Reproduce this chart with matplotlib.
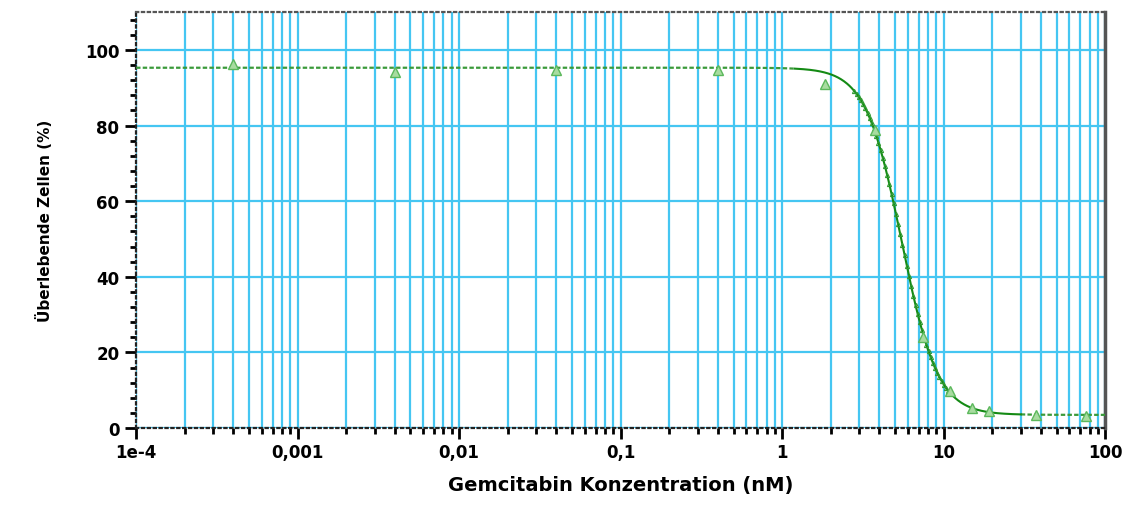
import numpy as np
import matplotlib
matplotlib.use("Agg")
import matplotlib.pyplot as plt
from matplotlib.ticker import FixedLocator, LogLocator, MultipleLocator, NullFormatter

plt.rcParams['font.family'] = ['DejaVu Sans']

# Measured data (concentration nM, surviving cells %)
conc = [0.0004, 0.004, 0.04, 0.4, 1.85, 3.77, 7.43, 11.0, 14.9, 19.1, 37.4, 76.0]
survival = [96.4, 94.3, 94.7, 94.7, 91.0, 78.9, 24.1, 9.8, 5.3, 4.4, 3.5, 3.2]

# 4PL fit parameters
fit_top = 95.3
fit_bottom = 3.5
fit_ec50 = 5.49
fit_hill = 3.9
fit_range = (1.2, 30.0)

xtick_vals = [1e-4, 1e-3, 1e-2, 1e-1, 1, 10, 100]
xtick_labels = ["1e-4", "0,001", "0,01", "0,1", "1", "10", "100"]
ytick_vals = [0, 20, 40, 60, 80, 100]

def four_pl(x):
    return fit_bottom + (fit_top - fit_bottom) / (1 + (x / fit_ec50) ** fit_hill)

fig = plt.figure(figsize=(11.3, 5.06), dpi=100)
ax = fig.add_axes([0.1204, 0.152, 0.8577, 0.822])
ax.set_xscale('log')
ax.set_xlim(1e-4, 100)
ax.set_ylim(0, 110)

grid_c = '#45c6f2'
ax.xaxis.set_major_locator(FixedLocator(xtick_vals))
ax.xaxis.set_minor_locator(LogLocator(base=10, subs=np.arange(2, 10), numticks=20))
ax.xaxis.set_minor_formatter(NullFormatter())
ax.set_xticklabels(xtick_labels)
ax.yaxis.set_major_locator(FixedLocator(ytick_vals))
ax.yaxis.set_minor_locator(MultipleLocator(4))
ax.grid(True, which='major', axis='both', color=grid_c, lw=1.6, zorder=0)
ax.grid(True, which='minor', axis='x', color=grid_c, lw=1.6, zorder=0)
ax.set_axisbelow(True)

# fitted curve
xs_solid = np.logspace(np.log10(fit_range[0]), np.log10(fit_range[1]), 300)
xs_left = np.logspace(-4, np.log10(fit_range[0]), 100)
xs_right = np.logspace(np.log10(fit_range[1]), 2, 50)
ax.plot(xs_left, four_pl(xs_left), color='#3a9a3a', lw=1.6, ls=(0, (2, 1)), zorder=3)
ax.plot(xs_right, four_pl(xs_right), color='#3a9a3a', lw=1.6, ls=(0, (2, 1)), zorder=3)
ax.plot(xs_solid, four_pl(xs_solid), color='#148a14', lw=1.5, zorder=3)
xs_mark = np.logspace(np.log10(2.8), np.log10(11), 45)
ax.plot(xs_mark, four_pl(xs_mark), ls='none', marker='^', ms=3, mfc='none',
        mec='#2f9a2f', mew=0.8, zorder=3)

# data points
ax.plot(conc, survival, ls='none', marker='^', ms=7.5, mfc='#a8dca0', mec='#5cb85c',
        mew=1.0, zorder=4)

# spines
for s in ['top', 'left', 'bottom']:
    ax.spines[s].set_linestyle(':')
    ax.spines[s].set_linewidth(1.6)
    ax.spines[s].set_color('#222222')
ax.spines['top'].set_color('#555555')
ax.spines['right'].set_linewidth(2.5)
ax.spines['right'].set_color('#555555')

ax.tick_params(axis='both', which='major', direction='out', length=8, width=2,
               labelsize=12, pad=4)
ax.tick_params(axis='both', which='minor', direction='out', length=4, width=2)
ax.tick_params(axis='x', which='major', pad=3)
for lab in ax.get_xticklabels() + ax.get_yticklabels():
    lab.set_fontweight('bold')

ax.set_xlabel('Gemcitabin Konzentration (nM)', fontsize=14, fontweight='bold', labelpad=10)
ax.set_ylabel('Überlebende Zellen (%)', fontsize=11, fontweight='bold', labelpad=23)

fig.savefig('out.png', dpi=100)
